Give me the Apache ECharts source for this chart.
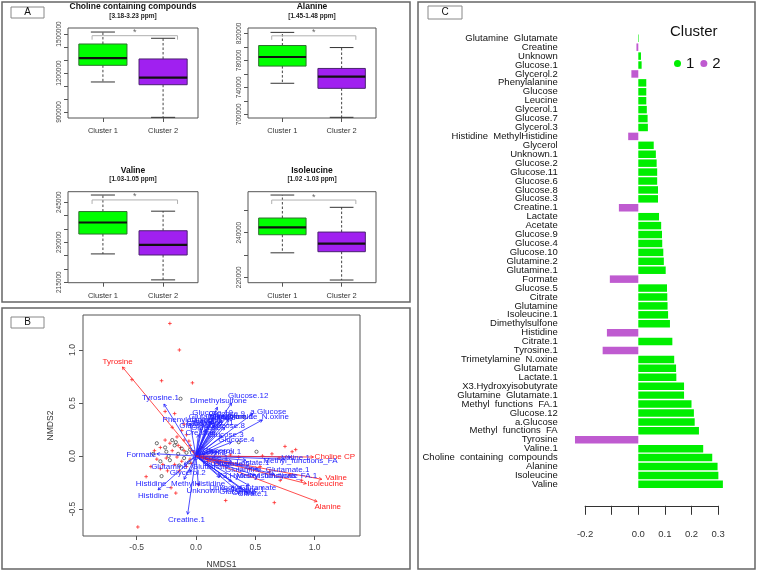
<!DOCTYPE html>
<html>
<head>
<meta charset="utf-8">
<script src="https://cdn.jsdelivr.net/npm/echarts@6/dist/echarts.min.js"></script>
<style>
html, body { margin: 0; padding: 0; background: #fff; }
#main { width: 757px; height: 570px; }
</style>
</head>
<body>
<div id="main"></div>
<script>
// ---- panel A : box stats [min, Q1, median, Q3, max] for cluster 1 / cluster 2
var clusterNames = ['Cluster 1', 'Cluster 2'];
var cholineBox = [[1131000, 1259000, 1315000, 1423000, 1515000], [859000, 1110000, 1164000, 1308000, 1467000]];
var alanineBox = [[746000, 771500, 785000, 802000, 821500], [695500, 738500, 756000, 768000, 799000]];
var valineBox = [[225600, 233060, 237400, 241500, 247700], [215860, 225200, 229000, 234300, 241640]];
var isoleucineBox = [[231000, 239100, 242400, 246600, 256900], [218800, 231500, 235100, 240300, 251400]];

var cholineTicks = [900000, 1000000, 1100000, 1200000, 1300000, 1400000, 1500000];
var cholineLabels = [900000, 1200000, 1500000];
var alanineTicks = [700000, 720000, 740000, 760000, 780000, 800000, 820000];
var alanineLabels = [700000, 740000, 780000, 820000];
var valineTicks = [215000, 220000, 225000, 230000, 235000, 240000, 245000];
var valineLabels = [215000, 230000, 245000];
var isoleucineTicks = [220000, 230000, 240000, 250000];
var isoleucineLabels = [220000, 240000];

// height of the "*" bracket in each box plot
var sigHeights = [1487000, 816400, 245860, 254660];

// ---- panel B : NMDS biplot
var nmdsTicks = [-0.5, 0, 0.5, 1];
// [label, tip x, tip y, label x, label y]
var redVectors = [
  ['Tyrosine', -0.62, 0.84, -0.66, 0.885],
  ['Choline CP', 0.99, -0.01, 1.17, -0.01],
  ['Valine', 1.06, -0.22, 1.18, -0.21],
  ['Isoleucine', 0.93, -0.26, 1.09, -0.26],
  ['Alanine', 1.02, -0.43, 1.11, -0.48]
];
var blueVectors = [
  ['Tyrosine.1', -0.27, 0.49, -0.30, 0.55],
  ['Dimethylsulfone', 0.18, 0.46, 0.19, 0.52],
  ['Glucose.12', 0.30, 0.50, 0.44, 0.57],
  ['a.Glucose', 0.48, 0.40, 0.61, 0.42],
  ['Trimetylamine_N.oxine', 0.56, 0.34, 0.44, 0.365],
  ['Glucose.10', 0.20, 0.38, 0.14, 0.41],
  ['Glucose.9', 0.26, 0.37, 0.26, 0.40],
  ['Glutamine.2', 0.15, 0.36, 0.12, 0.37],
  ['Glutamine.1', 0.28, 0.35, 0.30, 0.365],
  ['Acetate', 0.22, 0.34, 0.22, 0.36],
  ['Lactate', 0.12, 0.33, 0.10, 0.33],
  ['Phenylalanine', -0.05, 0.31, -0.07, 0.345],
  ['Leucine', 0.06, 0.30, 0.04, 0.32],
  ['Glucose.6', 0.10, 0.28, 0.07, 0.30],
  ['Glucose.11', 0.16, 0.29, 0.15, 0.31],
  ['Glucose.8', 0.24, 0.27, 0.26, 0.285],
  ['Glucose.2', 0.04, 0.26, 0.01, 0.28],
  ['Glucose.7', 0.08, 0.25, 0.11, 0.265],
  ['Creatine', 0.02, 0.20, 0.04, 0.22],
  ['Glucose.3', 0.22, 0.19, 0.25, 0.20],
  ['Glucose.4', 0.30, 0.13, 0.34, 0.15],
  ['Glycerol', 0.14, 0.05, 0.18, 0.05],
  ['Glycerol.1', 0.18, 0.04, 0.23, 0.04],
  ['Formate', -0.33, 0.02, -0.46, 0.015],
  ['Glutamine_Glutamate', -0.10, -0.08, -0.05, -0.10],
  ['Glycerol.2', -0.05, -0.15, -0.07, -0.16],
  ['Histidine_MethylHistidine', -0.10, -0.22, -0.13, -0.265],
  ['Histidine', -0.32, -0.32, -0.36, -0.38],
  ['Unknown', 0.02, -0.28, 0.06, -0.33],
  ['Creatine.1', -0.07, -0.55, -0.08, -0.60],
  ['Citrate.1', 0.43, -0.34, 0.48, -0.36],
  ['Citrate', 0.38, -0.31, 0.40, -0.345],
  ['Glutamine', 0.32, -0.30, 0.35, -0.335],
  ['Glutamate', 0.45, -0.28, 0.52, -0.30],
  ['Isoleucine.1', 0.30, -0.24, 0.40, -0.32],
  ['Unknown.1', 0.20, -0.20, 0.28, -0.30],
  ['Valine.1', 0.80, -0.01, 0.84, -0.02],
  ['Methyl_functions_FA', 0.74, -0.03, 0.88, -0.05],
  ['Lactate.1', 0.42, -0.04, 0.48, -0.06],
  ['Glucose.5', 0.30, -0.05, 0.30, -0.07],
  ['Glucose', 0.20, -0.06, 0.18, -0.07],
  ['Glutamine_Glutamate.1', 0.52, -0.12, 0.60, -0.13],
  ['X3.Hydroxyisobutyrate', 0.50, -0.18, 0.52, -0.19],
  ['Methyl_functions_FA.1', 0.66, -0.17, 0.68, -0.19],
  ['Glucose.1', 0.10, -0.03, 0.12, -0.02],
  ['Glycerol.3', 0.08, 0.02, 0.10, 0.03]
];
var redPoints = [
  [-0.22, 1.25], [-0.14, 1.0], [-0.29, 0.71], [-0.03, 0.69], [-0.54, 0.72],
  [-0.26, 0.42], [-0.18, 0.40], [-0.10, 0.30], [-0.20, 0.27], [-0.12, 0.24],
  [-0.08, 0.20], [-0.16, 0.18], [-0.22, 0.12], [-0.10, 0.15], [-0.05, 0.10],
  [-0.15, 0.10], [-0.30, 0.08], [-0.20, 0.05], [-0.10, 0.05], [-0.35, 0.05],
  [-0.02, 0.04], [0.05, 0.08], [-0.25, -0.02], [-0.05, -0.03], [-0.12, -0.05],
  [-0.18, -0.08], [-0.08, -0.10], [-0.28, -0.08], [0.10, -0.05], [-0.30, -0.12],
  [-0.24, -0.14], [-0.14, -0.14], [-0.38, -0.10], [-0.42, -0.195], [-0.21, -0.30],
  [-0.17, -0.35], [-0.49, -0.67], [0.02, -0.27], [0.25, -0.42], [0.66, -0.44],
  [0.29, 0.01], [0.36, -0.01], [0.54, -0.10], [0.62, -0.15], [0.71, -0.23],
  [0.79, -0.18], [0.89, -0.23], [0.64, 0.02], [0.75, 0.09], [0.81, 0.04],
  [0.70, -0.02], [0.56, 0.00], [-0.26, 0.15], [-0.33, -0.03], [-0.06, 0.14],
  [-0.13, 0.08], [-0.04, -0.07], [-0.16, -0.01], [0.84, 0.06], [0.45, -0.12]
];
var blackPoints = [
  [-0.13, 0.54], [-0.33, 0.12], [-0.26, 0.08], [-0.36, 0.02], [-0.29, -0.19],
  [-0.20, 0.15], [-0.18, 0.10], [-0.12, 0.07], [-0.22, -0.04], [-0.15, 0.02],
  [-0.08, 0.03], [-0.25, 0.04], [-0.10, -0.02], [0.51, 0.04], [0.36, 0.13],
  [0.30, 0.37], [0.35, 0.37], [0.40, 0.37], [-0.05, 0.06], [-0.30, -0.05],
  [-0.17, 0.13], [-0.23, 0.00], [-0.14, -0.09], [-0.06, -0.06]
];

// ---- panel C : loadings per metabolite
var metabolites = ['Glutamine  Glutamate', 'Creatine', 'Unknown', 'Glucose.1', 'Glycerol.2', 'Phenylalanine',
  'Glucose', 'Leucine', 'Glycerol.1', 'Glucose.7', 'Glycerol.3', 'Histidine  MethylHistidine', 'Glycerol',
  'Unknown.1', 'Glucose.2', 'Glucose.11', 'Glucose.6', 'Glucose.8', 'Glucose.3', 'Creatine.1', 'Lactate',
  'Acetate', 'Glucose.9', 'Glucose.4', 'Glucose.10', 'Glutamine.2', 'Glutamine.1', 'Formate', 'Glucose.5',
  'Citrate', 'Glutamine', 'Isoleucine.1', 'Dimethylsulfone', 'Histidine', 'Citrate.1', 'Tyrosine.1',
  'Trimetylamine  N.oxine', 'Glutamate', 'Lactate.1', 'X3.Hydroxyisobutyrate', 'Glutamine  Glutamate.1',
  'Methyl  functions  FA.1', 'Glucose.12', 'a.Glucose', 'Methyl  functions  FA', 'Tyrosine', 'Valine.1',
  'Choline  containing  compounds', 'Alanine', 'Isoleucine', 'Valine'];
var loadings = [0.002, -0.007, 0.010, 0.0125, -0.026, 0.030, 0.030, 0.030, 0.032, 0.035, 0.036, -0.038, 0.058,
  0.066, 0.069, 0.071, 0.071, 0.074, 0.074, -0.073, 0.078, 0.086, 0.089, 0.090, 0.094, 0.096, 0.103, -0.107,
  0.108, 0.109, 0.110, 0.112, 0.119, -0.118, 0.128, -0.134, 0.135, 0.142, 0.143, 0.172, 0.172, 0.200, 0.209,
  0.212, 0.228, -0.238, 0.244, 0.278, 0.298, 0.301, 0.318];
var loadingTicks = [-0.2, -0.1, 0, 0.1, 0.2, 0.3];
var loadingLabels = [-0.2, 0, 0.1, 0.2, 0.3];

var FONT = 'Liberation Sans, Arial, sans-serif';
var boxFill = ['#00ff00', '#a020f0'];
var boxEdge = ['#2f6f2f', '#4b2270'];

var chart = echarts.init(document.getElementById('main'));

// box plot drawn the R way: dashed whiskers, staples, filled box, thick median
function boxItem(params, api) {
  var i = params.dataIndex;
  var x = api.value(0);
  var half = api.size([0.8, 0])[0] / 2;
  var cap = half / 2;
  var pMin = api.coord([x, api.value(1)]);
  var pQ1 = api.coord([x, api.value(2)]);
  var pMed = api.coord([x, api.value(3)]);
  var pQ3 = api.coord([x, api.value(4)]);
  var pMax = api.coord([x, api.value(5)]);
  var cx = pMin[0];
  var dash = { stroke: '#444', lineWidth: 1, lineDash: [2.5, 2] };
  var solid = { stroke: '#333', lineWidth: 1 };
  return {
    type: 'group',
    children: [
      { type: 'line', shape: { x1: cx, y1: pQ3[1], x2: cx, y2: pMax[1] }, style: dash },
      { type: 'line', shape: { x1: cx, y1: pQ1[1], x2: cx, y2: pMin[1] }, style: dash },
      { type: 'line', shape: { x1: cx - cap, y1: pMax[1], x2: cx + cap, y2: pMax[1] }, style: solid },
      { type: 'line', shape: { x1: cx - cap, y1: pMin[1], x2: cx + cap, y2: pMin[1] }, style: solid },
      { type: 'rect', shape: { x: cx - half, y: pQ3[1], width: half * 2, height: pQ1[1] - pQ3[1] },
        style: { fill: boxFill[i], stroke: boxEdge[i], lineWidth: 1 } },
      { type: 'line', shape: { x1: cx - half, y1: pMed[1], x2: cx + half, y2: pMed[1] },
        style: { stroke: '#111', lineWidth: 2.2 } }
    ]
  };
}

function bracketItem(params, api) {
  var a = api.coord([api.value(0), api.value(2)]);
  var b = api.coord([api.value(1), api.value(2)]);
  return {
    type: 'group',
    children: [
      { type: 'polyline', shape: { points: [[a[0], a[1] + 4], a, b, [b[0], b[1] + 4]] },
        style: { stroke: '#b0b0b0', lineWidth: 1, fill: null } },
      { type: 'text', x: (a[0] + b[0]) / 2, y: a[1] - 3,
        style: { text: '*', fill: '#666', fontSize: 9, fontFamily: FONT, align: 'center', verticalAlign: 'middle' } }
    ]
  };
}

function makeArrowItem(list, color) {
  return function (params, api) {
    var o = api.coord([0, 0]);
    var p = api.coord([api.value(0), api.value(1)]);
    var t = api.coord([api.value(2), api.value(3)]);
    var ang = Math.atan2(p[1] - o[1], p[0] - o[0]);
    var h = 3.2;
    var a1 = [p[0] - h * Math.cos(ang - 0.5), p[1] - h * Math.sin(ang - 0.5)];
    var a2 = [p[0] - h * Math.cos(ang + 0.5), p[1] - h * Math.sin(ang + 0.5)];
    return {
      type: 'group',
      children: [
        { type: 'line', shape: { x1: o[0], y1: o[1], x2: p[0], y2: p[1] }, style: { stroke: color, lineWidth: 0.8 } },
        { type: 'polyline', shape: { points: [a1, p, a2] }, style: { stroke: color, lineWidth: 0.8, fill: null } },
        { type: 'text', x: t[0], y: t[1], z2: 10,
          style: { text: list[params.dataIndex][0], fill: color, fontSize: 8, fontFamily: FONT,
            align: 'center', verticalAlign: 'middle' } }
      ]
    };
  };
}

function plusItem(params, api) {
  var p = api.coord([api.value(0), api.value(1)]);
  var s = 1.8;
  var st = { stroke: '#ff2a2a', lineWidth: 0.8 };
  return {
    type: 'group',
    children: [
      { type: 'line', shape: { x1: p[0] - s, y1: p[1], x2: p[0] + s, y2: p[1] }, style: st },
      { type: 'line', shape: { x1: p[0], y1: p[1] - s, x2: p[0], y2: p[1] + s }, style: st }
    ]
  };
}

function circleItem(params, api) {
  var p = api.coord([api.value(0), api.value(1)]);
  return { type: 'circle', shape: { cx: p[0], cy: p[1], r: 1.6 }, style: { stroke: '#333', lineWidth: 0.7, fill: null } };
}

// the four box plots of panel A
var boxPanels = [
  { title: 'Choline containing compounds', ppm: '[3.18-3.23 ppm]', box: cholineBox, ticks: cholineTicks, labels: cholineLabels,
    min: 854000, max: 1546000, grid: { left: 68, top: 28, width: 130, height: 90 } },
  { title: 'Alanine', ppm: '[1.45-1.48 ppm]', box: alanineBox, ticks: alanineTicks, labels: alanineLabels,
    min: 694500, max: 828000, grid: { left: 248, top: 28, width: 128, height: 90 } },
  { title: 'Valine', ppm: '[1.03-1.05 ppm]', box: valineBox, ticks: valineTicks, labels: valineLabels,
    min: 214800, max: 248950, grid: { left: 68, top: 191.7, width: 130, height: 91 } },
  { title: 'Isoleucine', ppm: '[1.02 -1.03 ppm]', box: isoleucineBox, ticks: isoleucineTicks, labels: isoleucineLabels,
    min: 217600, max: 258400, grid: { left: 248, top: 191.7, width: 128, height: 91 } }
];

var grids = [], xAxes = [], yAxes = [], series = [], graphics = [];

boxPanels.forEach(function (bp, k) {
  grids.push(Object.assign({ show: true, borderColor: '#555', borderWidth: 1 }, bp.grid));
  xAxes.push({
    gridIndex: k, type: 'value', min: 0.42, max: 2.58,
    axisLine: { show: false, onZero: false }, splitLine: { show: false },
    axisTick: { show: true, customValues: [1, 2], length: 4, lineStyle: { color: '#555' } },
    axisLabel: { customValues: [1, 2], margin: 9, fontSize: 7.5, color: '#333', fontFamily: FONT,
      formatter: function (v) { return clusterNames[Math.round(v) - 1]; } }
  });
  yAxes.push({
    gridIndex: k, type: 'value', min: bp.min, max: bp.max,
    axisLine: { show: false, onZero: false }, splitLine: { show: false },
    axisTick: { show: true, customValues: bp.ticks, length: 4, lineStyle: { color: '#555' } },
    axisLabel: { customValues: bp.labels, rotate: 90, margin: 5, fontSize: 6.5, color: '#444', fontFamily: FONT,
      formatter: function (v) { return String(v); } }
  });
  series.push({
    type: 'custom', xAxisIndex: k, yAxisIndex: k, clip: false, renderItem: boxItem,
    data: bp.box.map(function (b, i) { return [i + 1].concat(b); })
  });
  series.push({
    type: 'custom', xAxisIndex: k, yAxisIndex: k, clip: false, renderItem: bracketItem,
    data: [[0.82, 2.24, sigHeights[k]]]
  });
  var cx = bp.grid.left + bp.grid.width / 2;
  graphics.push({ type: 'text', x: cx, y: bp.grid.top - 21,
    style: { text: bp.title, font: 'bold 8.5px ' + FONT, fill: '#111', align: 'center', verticalAlign: 'middle' } });
  graphics.push({ type: 'text', x: cx, y: bp.grid.top - 12,
    style: { text: bp.ppm, font: 'bold 6.5px ' + FONT, fill: '#222', align: 'center', verticalAlign: 'middle' } });
});

// panel B grid (index 4)
grids.push({ show: true, left: 83, top: 315, width: 277, height: 221, borderColor: '#555', borderWidth: 1 });
xAxes.push({
  gridIndex: 4, type: 'value', min: -0.952, max: 1.382, name: 'NMDS1', nameLocation: 'middle', nameGap: 24,
  nameTextStyle: { fontSize: 8.5, color: '#333', fontFamily: FONT },
  axisLine: { show: false, onZero: false }, splitLine: { show: false },
  axisTick: { show: true, customValues: nmdsTicks, length: 4, lineStyle: { color: '#555' } },
  axisLabel: { customValues: nmdsTicks, margin: 7, fontSize: 8.5, color: '#444', fontFamily: FONT,
    formatter: function (v) { return v.toFixed(1); } }
});
yAxes.push({
  gridIndex: 4, type: 'value', min: -0.755, max: 1.33, name: 'NMDS2', nameLocation: 'middle', nameGap: 28,
  nameTextStyle: { fontSize: 8.5, color: '#333', fontFamily: FONT },
  axisLine: { show: false, onZero: false }, splitLine: { show: false },
  axisTick: { show: true, customValues: nmdsTicks, length: 4, lineStyle: { color: '#555' } },
  axisLabel: { customValues: nmdsTicks, rotate: 90, margin: 6, fontSize: 8.5, color: '#444', fontFamily: FONT,
    formatter: function (v) { return v.toFixed(1); } }
});
series.push({ type: 'custom', xAxisIndex: 4, yAxisIndex: 4, clip: false, renderItem: plusItem, data: redPoints });
series.push({ type: 'custom', xAxisIndex: 4, yAxisIndex: 4, clip: false, renderItem: circleItem, data: blackPoints });
series.push({ type: 'custom', xAxisIndex: 4, yAxisIndex: 4, clip: false, renderItem: makeArrowItem(blueVectors, '#1f1fff'),
  data: blueVectors.map(function (v) { return v.slice(1); }) });
series.push({ type: 'custom', xAxisIndex: 4, yAxisIndex: 4, clip: false, renderItem: makeArrowItem(redVectors, '#ff2020'),
  data: redVectors.map(function (v) { return v.slice(1); }) });

// panel C grid (index 5)
grids.push({ left: 585.1, top: 33.8, width: 133, height: 455 });
xAxes.push({
  gridIndex: 5, type: 'value', min: -0.2, max: 0.3, offset: 17,
  axisLine: { show: true, onZero: false, lineStyle: { color: '#333', width: 1 } }, splitLine: { show: false },
  axisTick: { show: true, customValues: loadingTicks, length: 9, lineStyle: { color: '#333' } },
  axisLabel: { customValues: loadingLabels, margin: 24, fontSize: 9.5, color: '#333', fontFamily: FONT,
    formatter: function (v) { return v.toFixed(1); } }
});
yAxes.push({
  gridIndex: 5, type: 'category', data: metabolites, inverse: true,
  axisLine: { show: false, onZero: false }, axisTick: { show: false },
  axisLabel: { margin: 27.4, fontSize: 9.5, color: '#111', fontFamily: FONT, interval: 0 }
});
series.push({
  name: '1', type: 'bar', xAxisIndex: 5, yAxisIndex: 5, clip: false, barGap: '-100%', barCategoryGap: '16%',
  itemStyle: { color: '#00ee00' },
  data: loadings.map(function (v) { return v >= 0 ? v : null; })
});
series.push({
  name: '2', type: 'bar', xAxisIndex: 5, yAxisIndex: 5, clip: false, barGap: '-100%', barCategoryGap: '16%',
  itemStyle: { color: '#bf5bd0' },
  data: loadings.map(function (v) { return v < 0 ? v : null; })
});

// panel frames and letters
graphics.push(
  { type: 'rect', shape: { x: 2, y: 2, width: 408, height: 300 }, style: { fill: null, stroke: '#666', lineWidth: 1.5 } },
  { type: 'rect', shape: { x: 2, y: 308, width: 408, height: 261 }, style: { fill: null, stroke: '#666', lineWidth: 1.5 } },
  { type: 'rect', shape: { x: 418, y: 2, width: 337, height: 567 }, style: { fill: null, stroke: '#666', lineWidth: 1.5 } },
  { type: 'rect', shape: { x: 11, y: 7, width: 33, height: 11 }, style: { fill: null, stroke: '#888', lineWidth: 1 } },
  { type: 'rect', shape: { x: 11, y: 317, width: 33, height: 11 }, style: { fill: null, stroke: '#888', lineWidth: 1 } },
  { type: 'rect', shape: { x: 428, y: 6, width: 34, height: 13 }, style: { fill: null, stroke: '#888', lineWidth: 1 } },
  { type: 'text', x: 27.5, y: 12.5, style: { text: 'A', font: '10px ' + FONT, fill: '#111', align: 'center', verticalAlign: 'middle' } },
  { type: 'text', x: 27.5, y: 322.5, style: { text: 'B', font: '10px ' + FONT, fill: '#111', align: 'center', verticalAlign: 'middle' } },
  { type: 'text', x: 445, y: 12.5, style: { text: 'C', font: '10px ' + FONT, fill: '#111', align: 'center', verticalAlign: 'middle' } },
  { type: 'text', x: 670, y: 32, style: { text: 'Cluster', font: '15px ' + FONT, fill: '#111', align: 'left', verticalAlign: 'middle' } }
);

chart.setOption({
  animation: false,
  textStyle: { fontFamily: FONT },
  grid: grids,
  xAxis: xAxes,
  yAxis: yAxes,
  legend: {
    data: ['1', '2'], left: 669, top: 51, icon: 'circle', itemWidth: 7, itemHeight: 7, itemGap: 6,
    selectedMode: false, textStyle: { fontSize: 15, color: '#111', fontFamily: FONT }
  },
  graphic: graphics,
  series: series
});
</script>
</body>
</html>
